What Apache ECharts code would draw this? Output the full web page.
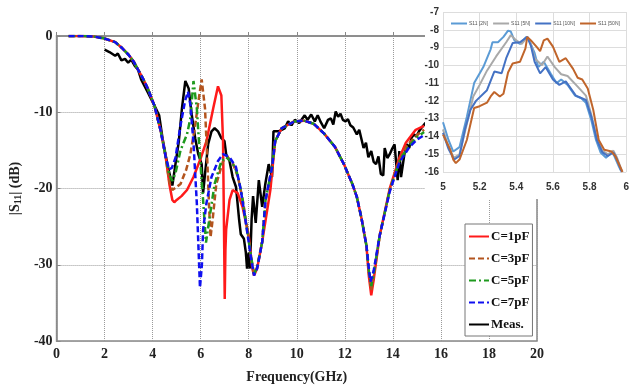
<!DOCTYPE html>
<html>
<head>
<meta charset="utf-8">
<script src="https://cdn.jsdelivr.net/npm/echarts@6/dist/echarts.min.js"></script>
<style>
  html, body { margin: 0; padding: 0; background: #fff; }
  #chart { width: 632px; height: 389px; }
</style>
</head>
<body>
<div id="chart"></div>
<script>
// main plot: |S11| vs frequency, [GHz, dB]
var simHead = [[0.5,0],[1.0,0],[1.5,-0.05],[1.96,-0.3],[2.44,-0.8],[2.7,-1.5],[2.98,-2.4],[3.2,-3.3],[3.39,-4.4],[3.6,-5.6],[3.8,-6.9],[4.07,-9.1],[4.34,-12.5],[4.54,-15.8]];
var simTail = [[9.1,-13.8],[9.37,-12.1],[9.9,-11.2],[10.3,-11.1],[10.7,-11.5],[11.14,-12.8],[11.6,-14.6],[11.96,-16.8],[12.3,-19.3],[12.5,-21.1],[12.7,-24.0],[12.9,-27.5]];

var c1Mid = [[4.7,-19.5],[4.82,-21.5],[4.9,-21.8],[5.0,-21.5],[5.2,-21.0],[5.43,-20.2],[5.7,-18.5],[5.97,-16.3],[6.24,-13.8],[6.52,-9.5],[6.72,-6.6],[6.86,-7.8],[6.93,-13.8],[6.97,-25],[7.0,-34.5],[7.03,-28],[7.06,-25.4],[7.2,-21.5],[7.33,-20.2],[7.54,-20.6],[7.74,-22.4],[8.0,-26.2],[8.15,-30.5],[8.22,-31.4],[8.35,-30.5],[8.56,-27],[8.9,-20.2]];
var c1End = [[13.0,-31.5],[13.1,-34.0],[13.2,-32],[13.45,-26.2],[13.87,-20.0],[14.27,-16.0],[14.54,-14.0],[14.95,-12.3],[15.3,-11.8]];

var c3Mid = [[4.7,-19.2],[4.82,-20.2],[5.0,-19.8],[5.16,-19.4],[5.4,-17.5],[5.57,-15.5],[5.77,-11.7],[5.9,-8.7],[6.04,-5.7],[6.18,-9.5],[6.27,-15.9],[6.35,-22.4],[6.41,-26.4],[6.5,-24],[6.65,-19.4],[6.93,-16.4],[7.13,-15.9],[7.35,-16.8],[7.55,-18.5],[7.75,-21.5],[7.95,-25.5],[8.12,-29.5],[8.22,-31.2],[8.35,-30.3],[8.56,-27],[8.7,-21.5],[8.97,-17.2]];
var c3End = [[13.0,-31],[13.1,-33.3],[13.2,-31.5],[13.45,-26.2],[13.87,-20.2],[14.27,-16.3],[14.6,-14.3],[15.0,-13.0],[15.3,-12.3]];

var c5Mid = [[4.7,-18.3],[4.82,-19.0],[4.95,-18.0],[5.16,-15.0],[5.43,-12.9],[5.57,-10.8],[5.7,-5.9],[5.84,-9.5],[5.97,-15.9],[6.1,-21.5],[6.22,-27.1],[6.38,-23.6],[6.58,-19.4],[6.86,-16.4],[7.06,-15.9],[7.3,-16.5],[7.5,-17.8],[7.7,-20.6],[7.9,-24.8],[8.1,-29],[8.22,-31.2],[8.35,-30.3],[8.56,-27],[8.7,-21.5],[8.97,-17.2]];
var c5End = [[13.0,-30.8],[13.1,-32.8],[13.2,-31.2],[13.45,-26.2],[13.87,-20.2],[14.27,-16.4],[14.65,-14.5],[15.0,-13.3],[15.3,-12.6]];

var c7Mid = [[4.68,-17.5],[4.8,-17.3],[4.95,-16.0],[5.16,-11.7],[5.35,-8.5],[5.47,-7.3],[5.57,-9.0],[5.7,-14.0],[5.84,-22.0],[5.97,-33.0],[6.05,-30],[6.1,-25.4],[6.24,-21.9],[6.45,-18.5],[6.72,-16.4],[6.93,-15.5],[7.2,-15.9],[7.47,-17.2],[7.67,-20.2],[7.88,-24.5],[8.08,-28.8],[8.22,-31.4],[8.35,-30.5],[8.56,-27],[8.7,-21.5],[8.97,-17.2]];
var c7End = [[13.0,-30.5],[13.07,-32.2],[13.2,-30.8],[13.45,-26.2],[13.87,-20.4],[14.27,-16.6],[14.68,-14.6],[15.0,-13.6],[15.3,-13.0]];

var meas = [[2.0,-1.8],[2.2,-2.1],[2.44,-2.6],[2.55,-2.3],[2.7,-3.2],[2.85,-3.0],[2.98,-3.5],[3.11,-3.1],[3.25,-3.9],[3.39,-4.4],[3.52,-5.7],[3.8,-7.4],[4.07,-9.1],[4.27,-10.4],[4.41,-13.4],[4.61,-16.8],[4.75,-18.7],[4.82,-19.6],[4.95,-16.8],[5.09,-13.8],[5.22,-9.5],[5.36,-5.9],[5.5,-6.9],[5.63,-10.4],[5.77,-13.4],[5.9,-15.5],[6.04,-16.8],[6.1,-20.6],[6.2,-17.5],[6.31,-14.2],[6.45,-12.5],[6.58,-12.1],[6.72,-12.5],[6.86,-13.4],[6.99,-13.8],[7.06,-15.5],[7.2,-16.4],[7.33,-18.5],[7.47,-19.8],[7.6,-24.1],[7.67,-26.0],[7.8,-26.6],[7.88,-28.4],[7.93,-30.5],[8.0,-28.4],[8.05,-30.5],[8.12,-24.0],[8.18,-21.0],[8.29,-24.5],[8.42,-18.9],[8.56,-22.4],[8.69,-19.4],[8.83,-16.8],[8.97,-18.5],[9.03,-12.5],[9.24,-12.5],[9.5,-12.1],[9.64,-11.2],[9.78,-11.7],[9.92,-11.0],[10.1,-11.4],[10.33,-10.4],[10.45,-11.0],[10.6,-10.3],[10.75,-11.2],[10.87,-10.4],[11.0,-11.3],[11.14,-12.1],[11.3,-11.0],[11.42,-10.8],[11.52,-11.6],[11.62,-9.9],[11.72,-10.6],[11.82,-10.2],[11.92,-11.0],[12.03,-11.2],[12.13,-10.9],[12.23,-11.7],[12.35,-12.0],[12.5,-12.9],[12.6,-12.3],[12.78,-14.7],[12.88,-14.0],[12.98,-15.9],[13.1,-15.1],[13.2,-16.5],[13.3,-16.8],[13.4,-15.8],[13.5,-18.1],[13.6,-18.3],[13.66,-14.7],[13.77,-16.0],[13.87,-15.5],[13.97,-14.8],[14.07,-14.2],[14.2,-18.9],[14.27,-15.1],[14.34,-18.5],[14.48,-15.5],[14.58,-14.2],[14.68,-14.7],[14.78,-13.3],[14.88,-12.9],[14.98,-13.2],[15.09,-12.5],[15.2,-12.0],[15.36,-11.4]];

// inset: [GHz, dB]
var s2N = [[5.0,-13.2],[5.03,-14.2],[5.056,-14.85],[5.09,-14.6],[5.13,-12.9],[5.17,-11.0],[5.22,-10.1],[5.26,-9.1],[5.27,-8.7],[5.3,-8.7],[5.33,-8.4],[5.355,-8.05],[5.37,-8.1],[5.39,-8.6],[5.42,-8.8],[5.455,-8.4],[5.47,-8.6],[5.5,-9.3],[5.52,-10.1],[5.55,-9.8],[5.59,-10.5],[5.62,-11.0],[5.645,-10.8],[5.68,-11.1],[5.72,-11.7],[5.755,-11.85],[5.78,-12.1],[5.81,-13.1],[5.835,-14.2],[5.86,-14.9],[5.89,-15.2],[5.92,-14.85],[5.935,-15.1],[5.96,-15.7],[5.97,-15.9]];
var s5N = [[5.0,-13.6],[5.03,-14.6],[5.06,-15.2],[5.09,-15.0],[5.13,-13.3],[5.165,-11.75],[5.2,-11.1],[5.24,-10.3],[5.29,-9.5],[5.345,-8.7],[5.37,-8.3],[5.4,-8.6],[5.43,-8.8],[5.46,-8.4],[5.48,-8.8],[5.5,-9.6],[5.54,-10.0],[5.57,-9.5],[5.61,-10.1],[5.645,-10.5],[5.68,-10.6],[5.735,-11.2],[5.78,-11.7],[5.81,-12.8],[5.84,-14.1],[5.87,-14.8],[5.9,-15.0],[5.93,-14.8],[5.95,-15.2],[5.975,-15.9]];
var s10N = [[5.0,-13.8],[5.03,-14.7],[5.06,-15.3],[5.09,-15.1],[5.12,-13.6],[5.15,-12.5],[5.18,-12.0],[5.24,-11.4],[5.28,-10.35],[5.32,-10.45],[5.345,-9.6],[5.38,-8.75],[5.42,-8.7],[5.46,-8.4],[5.48,-8.9],[5.5,-9.8],[5.53,-10.45],[5.56,-10.1],[5.6,-10.8],[5.635,-11.1],[5.67,-10.9],[5.725,-11.7],[5.78,-11.95],[5.81,-12.9],[5.84,-14.2],[5.87,-14.9],[5.9,-15.1],[5.93,-14.9],[5.95,-15.3],[5.975,-16.0]];
var s50N = [[5.0,-13.9],[5.04,-14.75],[5.056,-15.3],[5.07,-15.5],[5.09,-15.3],[5.13,-14.2],[5.17,-12.4],[5.2,-12.3],[5.24,-12.1],[5.26,-11.75],[5.28,-11.5],[5.31,-11.75],[5.33,-11.6],[5.355,-10.4],[5.38,-9.9],[5.42,-9.8],[5.45,-9.05],[5.46,-8.4],[5.48,-8.6],[5.51,-8.95],[5.53,-9.2],[5.55,-8.6],[5.57,-8.5],[5.6,-8.95],[5.635,-9.8],[5.67,-9.6],[5.71,-10.2],[5.735,-10.7],[5.76,-10.8],[5.79,-11.3],[5.82,-12.5],[5.85,-14.2],[5.88,-14.75],[5.92,-14.85],[5.94,-15.1],[5.98,-16.0]];

var mainNames = ["C=1pF", "C=3pF", "C=5pF", "C=7pF", "Meas."];
var insetNames = ["S11 [2N]", "S11 [5N]", "S11 [10N]", "S11 [50N]"];

var serif = "'Liberation Serif', 'Times New Roman', serif";
var narrow = "'Liberation Sans Narrow', 'Liberation Sans', sans-serif";

var chart = echarts.init(document.getElementById("chart"));

function mainLine(name, data, color, type, z) {
  return {
    name: name, type: "line", xAxisIndex: 0, yAxisIndex: 0,
    data: data, symbol: "none", z: z,
    lineStyle: { color: color, width: 2.5, type: type },
    itemStyle: { color: color }
  };
}

function insetLine(name, data, color) {
  return {
    name: name, type: "line", xAxisIndex: 1, yAxisIndex: 1,
    data: data, symbol: "none", z: 12,
    lineStyle: { color: color, width: 2 },
    itemStyle: { color: color }
  };
}

chart.setOption({
  animation: false,
  backgroundColor: "#fff",
  graphic: [{
    type: "rect", z: 8, silent: true,
    shape: { x: 425, y: 0, width: 207, height: 199 },
    style: { fill: "#fff" }
  }],
  grid: [
    { left: 47, right: 95, top: 36, bottom: 42, show: true, borderColor: "#888", borderWidth: 1.5 },
    { left: 443, right: 5, top: 12, bottom: 217 }
  ],
  legend: [
    {
      data: mainNames, orient: "vertical", left: 465, top: 224,
      itemWidth: 20, itemHeight: 10, itemGap: 9,
      padding: [6, 3, 5, 3],
      itemStyle: { opacity: 0 },
      backgroundColor: "#fff", borderColor: "#777", borderWidth: 1,
      textStyle: { fontFamily: serif, fontWeight: "bold", fontSize: 13, color: "#111", padding: [0, 0, 0, -3] }
    },
    {
      data: insetNames, orient: "horizontal", left: 450, top: 21, z: 14, width: 182,
      itemWidth: 16, itemHeight: 6, itemGap: 4, padding: 0,
      itemStyle: { opacity: 0 },
      textStyle: { fontFamily: narrow, fontSize: 5, color: "#555", padding: [0, 0, 0, -3] }
    }
  ],
  xAxis: [
    {
      type: "value", gridIndex: 0, min: 0, max: 20, interval: 2,
      name: "Frequency(GHz)", nameLocation: "middle", nameGap: 29,
      nameTextStyle: { fontFamily: serif, fontWeight: "bold", fontSize: 14, color: "#222" },
      axisLine: { show: true, lineStyle: { color: "#888", width: 1.5 } },
      axisTick: { show: true, inside: true, length: 4, lineStyle: { color: "#888" } },
      axisLabel: { fontFamily: serif, fontWeight: "bold", fontSize: 14, color: "#222", margin: 6 },
      splitLine: { show: true, lineStyle: { color: "#9a9a9a", type: "dotted", width: 1 } }
    },
    {
      type: "value", gridIndex: 1, min: 5, max: 6, interval: 0.2, z: 10,
      axisLine: { show: false },
      axisTick: { show: false },
      axisLabel: {
        fontFamily: narrow, fontWeight: "bold", fontSize: 10, color: "#333", margin: 10,
        formatter: function (v) { return String(+v.toFixed(1)); }
      },
      splitLine: { show: true, lineStyle: { color: "#ddd", width: 1 } }
    }
  ],
  yAxis: [
    {
      type: "value", gridIndex: 0, min: -40, max: 0, interval: 10,
      name: "|S{sub|11}| (dB)", nameLocation: "middle", nameGap: 33, nameRotate: 90,
      nameTextStyle: {
        fontFamily: serif, fontWeight: "bold", fontSize: 14, color: "#222",
        rich: { sub: { fontFamily: serif, fontWeight: "bold", fontSize: 10, color: "#222", verticalAlign: "bottom", padding: [6, 0, 0, 0] } }
      },
      axisLine: { show: true, lineStyle: { color: "#888", width: 1.5 } },
      axisTick: { show: true, inside: true, length: 4, lineStyle: { color: "#888" } },
      axisLabel: { fontFamily: serif, fontWeight: "bold", fontSize: 14, color: "#222", margin: 4 },
      splitLine: { show: true, lineStyle: { color: "#9a9a9a", type: "dotted", width: 1 } }
    },
    {
      type: "value", gridIndex: 1, min: -16, max: -7, interval: 1, z: 10,
      axisLine: { show: false },
      axisTick: { show: false },
      axisLabel: { fontFamily: narrow, fontWeight: "bold", fontSize: 10, color: "#333", margin: 4 },
      splitLine: { show: true, lineStyle: { color: "#ddd", width: 1 } }
    }
  ],
  series: [
    mainLine("Meas.", meas, "#000", "solid", 2),
    mainLine("C=1pF", simHead.concat(c1Mid, simTail, c1End), "#ff1a1a", "solid", 3),
    mainLine("C=3pF", simHead.concat(c3Mid, simTail, c3End), "#b3541e", [6, 3], 4),
    mainLine("C=5pF", simHead.concat(c5Mid, simTail, c5End), "#1e9a1e", [7, 3, 2, 3], 5),
    mainLine("C=7pF", simHead.concat(c7Mid, simTail, c7End), "#1010f0", [6, 3], 6),
    insetLine("S11 [2N]", s2N, "#5b9bd5"),
    insetLine("S11 [5N]", s5N, "#a9a9a9"),
    insetLine("S11 [10N]", s10N, "#4472c4"),
    insetLine("S11 [50N]", s50N, "#c0652b")
  ]
});
</script>
</body>
</html>
